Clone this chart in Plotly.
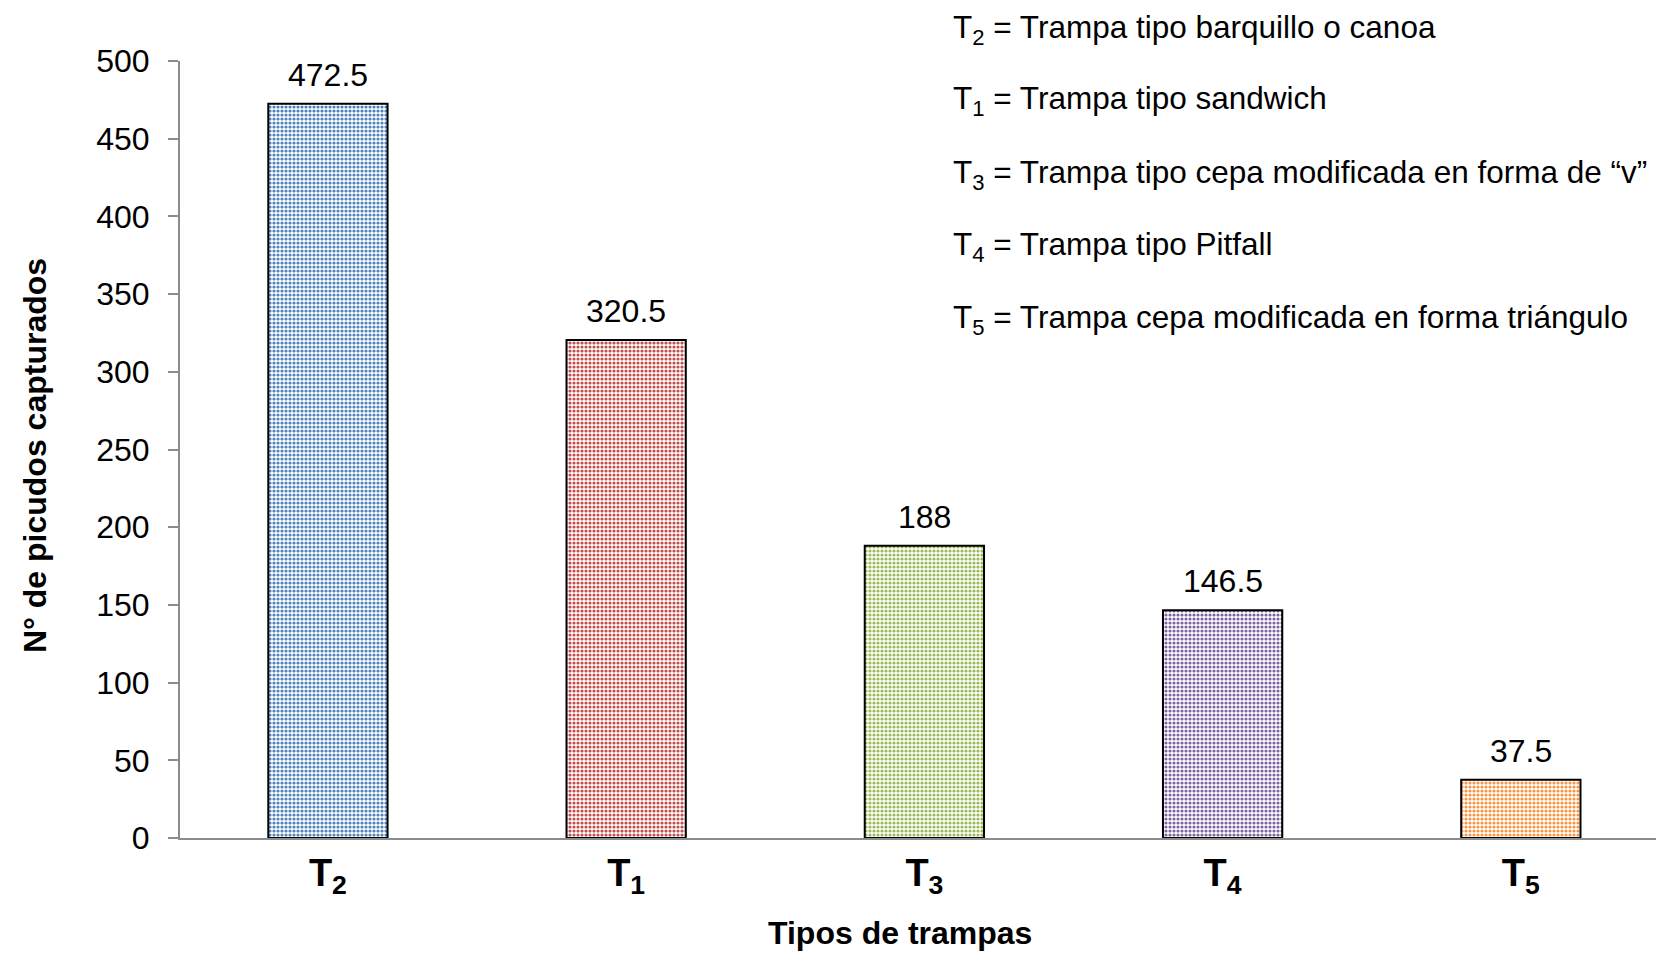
import plotly.graph_objects as go

categories = ["T2", "T1", "T3", "T4", "T5"]
tick_labels = ["T<sub>2</sub>", "T<sub>1</sub>", "T<sub>3</sub>", "T<sub>4</sub>", "T<sub>5</sub>"]
values = [472.5, 320.5, 188, 146.5, 37.5]
value_labels = ["472.5", "320.5", "188", "146.5", "37.5"]
colors = ["#4F81BD", "#C0504D", "#9BBB59", "#8064A2", "#F79646"]
bg_colors = ["#C6D5EA", "#EBC3C2", "#DDE9C8", "#D4CAE1", "#FCDCC2"]
legend_lines = [
    "T<sub>2</sub> = Trampa tipo barquillo o canoa",
    "T<sub>1</sub> = Trampa tipo sandwich",
    "T<sub>3</sub> = Trampa tipo cepa modificada en forma de “v”",
    "T<sub>4</sub> = Trampa tipo Pitfall",
    "T<sub>5</sub> = Trampa cepa modificada en forma triángulo",
]

FONT = "Arial, Liberation Sans, sans-serif"
OFF = 8  # default page body margin
W, H = 1664 - OFF, 955 - OFF
ML, MR, MT, MB = 180 - OFF, 0, 61 - OFF, 955 - 838
plot_w = W - ML - MR
plot_h = H - MT - MB


def px(page_x):
    return (page_x - OFF - ML) / plot_w


def py(page_y):
    return 1 - (page_y - OFF - MT) / plot_h


fig = go.Figure()
fig.add_trace(go.Bar(
    x=list(range(len(categories))),
    y=values,
    marker=dict(
        color=colors,
        line=dict(color="black", width=2),
        pattern=dict(shape=".", fgcolor=colors, bgcolor=bg_colors, size=4, solidity=0.5, fillmode="replace"),
    ),
    width=0.4,
    showlegend=False,
    hoverinfo="skip",
))

annotations = []
for i, (v, lab) in enumerate(zip(values, value_labels)):
    annotations.append(dict(x=i, y=v, xref="x", yref="y", text=lab, showarrow=False,
                            yanchor="bottom", yshift=9,
                            font=dict(family=FONT, size=32, color="black")))

legend_y = [29, 100, 174, 247, 320]
for txt, ly in zip(legend_lines, legend_y):
    annotations.append(dict(x=px(951), y=py(ly), xref="paper", yref="paper",
                            text=txt, showarrow=False, xanchor="left", yanchor="middle",
                            font=dict(family=FONT, size=31.5, color="black")))

annotations.append(dict(x=px(900), y=py(933), xref="paper", yref="paper",
                        text="<b>Tipos de trampas</b>", showarrow=False, xanchor="center", yanchor="middle",
                        font=dict(family=FONT, size=32, color="black")))
annotations.append(dict(x=px(35), y=py(456), xref="paper", yref="paper",
                        text="<b>N° de picudos capturados</b>", showarrow=False, textangle=-90,
                        xanchor="center", yanchor="middle",
                        font=dict(family=FONT, size=32, color="black")))

fig.update_layout(
    width=W, height=H,
    margin=dict(l=ML, r=MR, t=MT, b=MB),
    paper_bgcolor="white", plot_bgcolor="white",
    annotations=annotations,
    xaxis=dict(
        range=[-0.496, 4.48],
        tickmode="array", tickvals=list(range(len(categories))),
        ticktext=["<b>" + t + "</b>" for t in tick_labels],
        tickfont=dict(family=FONT, size=38, color="black"),
        showline=True, linecolor="#8C8C8C", linewidth=2,
        ticks="", showgrid=False, zeroline=False,
        fixedrange=True,
    ),
    yaxis=dict(
        range=[0, 500], tickvals=[0, 50, 100, 150, 200, 250, 300, 350, 400, 450, 500],
        tickfont=dict(family=FONT, size=32, color="black"),
        showline=True, linecolor="#8C8C8C", linewidth=2,
        ticks="outside", ticklen=10, tickcolor="#8C8C8C", tickwidth=2,
        ticklabelstandoff=12,
        showgrid=False, zeroline=False,
        fixedrange=True,
    ),
)

fig.write_html("out.html")
